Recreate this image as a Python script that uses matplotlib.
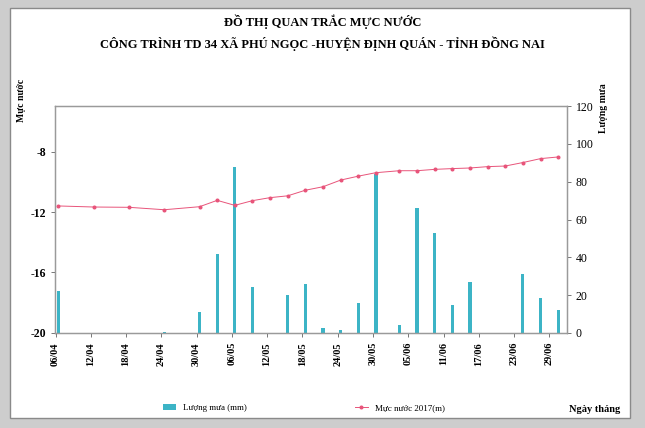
import numpy as np
import pandas as pd
import matplotlib.pyplot as plt
from matplotlib.patches import Rectangle
from matplotlib.lines import Line2D
from matplotlib.patches import Patch

plt.rcParams['axes.unicode_minus'] = False

# water level (m), measured dates 2017
level_dates = ['06/04', '12/04', '18/04', '24/04', '30/04', '03/05', '06/05', '09/05',
               '12/05', '15/05', '18/05', '21/05', '24/05', '27/05', '30/05', '03/06',
               '06/06', '09/06', '12/06', '15/06', '18/06', '21/06', '24/06', '27/06', '30/06']
level_values = [-11.60, -11.67, -11.69, -11.85, -11.65, -11.23, -11.56, -11.25,
                -11.05, -10.93, -10.56, -10.33, -9.89, -9.63, -9.40, -9.27,
                -9.27, -9.18, -9.13, -9.09, -9.00, -8.96, -8.73, -8.47, -8.36]

# rainfall (mm)
rain_dates = ['06/04', '24/04', '30/04', '03/05', '06/05', '09/05', '15/05', '18/05',
              '21/05', '24/05', '27/05', '30/05', '03/06', '06/06', '09/06', '12/06',
              '15/06', '24/06', '27/06', '30/06']
rain_values = [22, 0.5, 11, 42, 88, 24.5, 20, 26,
               2.4, 1.8, 16, 84, 4.4, 66, 53, 15,
               27, 31, 18.7, 12]

tick_labels = ['06/04', '12/04', '18/04', '24/04', '30/04', '06/05', '12/05', '18/05',
               '24/05', '30/05', '05/06', '11/06', '17/06', '23/06', '29/06']


def to_dt(lst):
    return pd.to_datetime([d + '/2017' for d in lst], format='%d/%m/%Y')


half = pd.Timedelta(hours=12)
lx = to_dt(level_dates) + half
rx = to_dt(rain_dates) + half
ticks = to_dt(tick_labels)

serif = 'Liberation Serif'
bar_col = '#3cb4c6'
line_col = '#e8547a'

fig = plt.figure(figsize=(6.45, 4.28), dpi=100, facecolor='#cdcdcd')
fig.patches.append(Rectangle((10 / 645, 1 - 418 / 428), 620 / 645, 410 / 428,
                             transform=fig.transFigure, facecolor='white',
                             edgecolor='#8a8a8a', lw=1.0, zorder=-5))

ax = fig.add_axes([0.0853, 0.222, 0.7937, 0.530])
ax2 = ax.twinx()
ax.set_zorder(ax2.get_zorder() + 1)
ax.patch.set_visible(False)

ax2.bar(rx, rain_values, width=0.55, color=bar_col, zorder=2)
ax2.set_ylim(0, 120)
ax2.set_yticks(range(0, 121, 20))

ax.plot(lx, level_values, color=line_col, lw=0.7, marker='o', ms=1.9, zorder=3)
ax.set_ylim(-20, -5)
ax.set_yticks([-20, -16, -12, -8])
ax.set_xlim(ticks[0] - pd.Timedelta(hours=2), ticks[0] + pd.Timedelta(days=87))
ax.set_xticks(ticks)
ax.set_xticklabels(tick_labels, rotation=90, fontsize=7.5, fontweight='bold', family=serif)

for a in (ax, ax2):
    for s in a.spines.values():
        s.set_color('#9a9a9a')
        s.set_linewidth(0.9)
    a.tick_params(length=3, width=0.7, color='#777777')
for t in ax.get_yticklabels():
    t.set_fontsize(8.5)
    t.set_fontweight('bold')
    t.set_family(serif)
for t in ax2.get_yticklabels():
    t.set_fontsize(8.5)
    t.set_family(serif)

fig.text(0.5, 1 - 22 / 428, 'ĐỒ THỊ QUAN TRẮC MỰC NƯỚC', ha='center', va='center',
         fontsize=9, fontweight='bold', family=serif)
fig.text(0.5, 1 - 44 / 428, 'CÔNG TRÌNH TD 34 XÃ PHÚ NGỌC -HUYỆN ĐỊNH QUÁN - TỈNH ĐỒNG NAI',
         ha='center', va='center', fontsize=9, fontweight='bold', family=serif)
fig.text(22 / 645, 1 - 100 / 428, 'Mực nước', rotation=90, ha='center', va='center',
         fontsize=7, fontweight='bold', family=serif)
fig.text(603 / 645, 1 - 108 / 428, 'Lượng mưa', rotation=90, ha='center', va='center',
         fontsize=7, fontweight='bold', family=serif)
fig.text(620 / 645, 1 - 410 / 428, 'Ngày tháng', ha='right', va='center',
         fontsize=7.5, fontweight='bold', family=serif)

handles = [Patch(facecolor=bar_col), Line2D([], [], color=line_col, lw=0.7, marker='o', ms=1.9)]
fig.legend(handles[:1], ['Lượng mưa (mm)'], loc='center', bbox_to_anchor=(205 / 645, 1 - 408 / 428),
           frameon=False, prop={'family': serif, 'size': 6.5}, handlelength=1.5, handleheight=0.6)
fig.legend(handles[1:], ['Mực nước 2017(m)'], loc='center', bbox_to_anchor=(400 / 645, 1 - 408 / 428),
           frameon=False, prop={'family': serif, 'size': 6.5}, handlelength=1.5)

fig.savefig('out.png', dpi=100, facecolor=fig.get_facecolor())
